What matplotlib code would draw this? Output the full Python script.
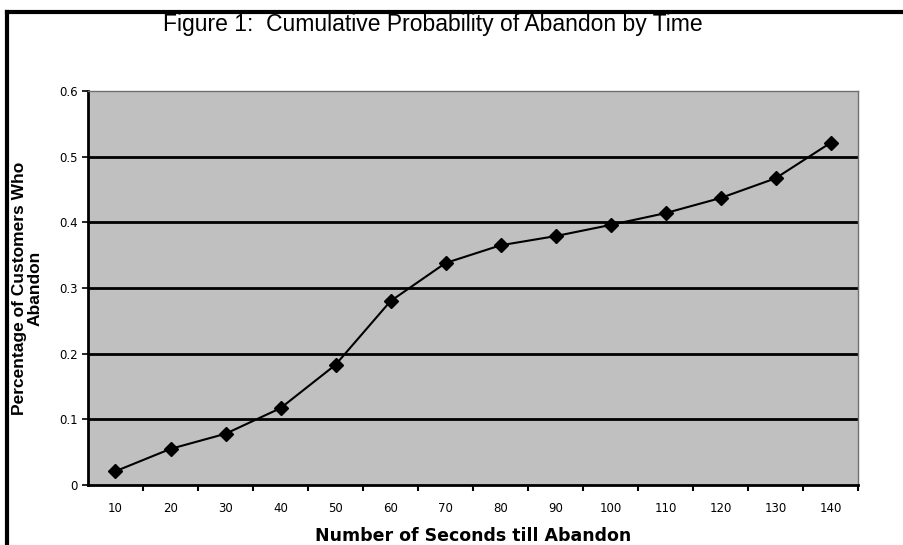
import matplotlib.pyplot as plt
import numpy as np

seconds = ['10', '20', '30', '40', '50', '60', '70', '80', '90', '100', '110', '120', '130', '140']
abandon = [0.021, 0.055, 0.078, 0.117, 0.183, 0.280, 0.338, 0.365, 0.379, 0.396, 0.414, 0.437, 0.467, 0.521]
yticks = [0, 0.1, 0.2, 0.3, 0.4, 0.5, 0.6]
ylabels = ['0', '0.1', '0.2', '0.3', '0.4', '0.5', '0.6']

fig = plt.figure(figsize=(9.04, 5.45), dpi=100)
ax = fig.add_axes([88/904, 60/545, 770/904, 394/545])

x = np.arange(len(seconds))
ax.set_facecolor('#c0c0c0')
for yv in yticks[1:-1]:
    ax.axhline(yv, color='black', lw=2, zorder=1)
ax.plot(x, abandon, color='black', lw=1.5, marker='D', ms=7, zorder=3)

ax.set_xlim(-0.5, len(seconds) - 0.5)
ax.set_ylim(0, 0.6)
ax.set_xticks(x)
ax.set_xticklabels(seconds, fontsize=8.5, family='DejaVu Sans')
ax.set_xticks(np.arange(len(seconds)) + 0.5, minor=True)
ax.tick_params(axis='x', which='major', length=0, pad=12)
ax.tick_params(axis='x', which='minor', length=4, width=1.5, direction='out')
ax.set_yticks(yticks)
ax.set_yticklabels(ylabels, fontsize=8.5, family='DejaVu Sans')
ax.tick_params(axis='y', length=4, width=1.2, direction='out')

for s in ['top', 'right']:
    ax.spines[s].set_color('#707070')
    ax.spines[s].set_linewidth(1)
for s in ['left', 'bottom']:
    ax.spines[s].set_color('black')
    ax.spines[s].set_linewidth(2)

ax.set_xlabel('Number of Seconds till Abandon', fontsize=12.5, fontweight='bold',
              family='DejaVu Sans', labelpad=9)
ax.set_ylabel('Percentage of Customers Who\nAbandon', fontsize=12.5, fontweight='bold',
              family='Liberation Sans', labelpad=12, linespacing=1.0)

fig.text(433/904, 1 - 25/545, 'Figure 1:  Cumulative Probability of Abandon by Time',
         ha='center', va='center', fontsize=16.5, family='Liberation Sans')

# outer frame: thick black on left and top
fig.add_artist(plt.Line2D([7/904, 7/904], [0, 1 - 12/545], color='black', lw=3,
                          transform=fig.transFigure))
fig.add_artist(plt.Line2D([7/904, 1], [1 - 12/545, 1 - 12/545], color='black', lw=3,
                          transform=fig.transFigure))

fig.savefig('out.png', dpi=100)
